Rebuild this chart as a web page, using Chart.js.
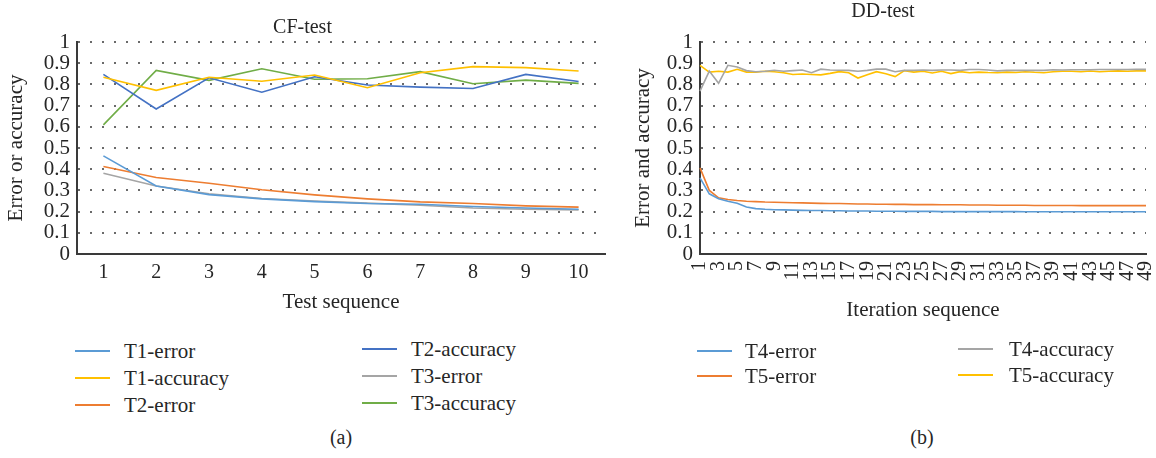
<!DOCTYPE html>
<html>
<head>
<meta charset="utf-8">
<script src="https://cdn.jsdelivr.net/npm/chart.js@4.4.1/dist/chart.umd.min.js"></script>
<style>
body { margin: 0; background: #fff; overflow: hidden; }
#wrap { position: relative; width: 1156px; height: 458px; overflow: hidden; font-family: 'Liberation Serif', 'Times New Roman', serif; color: #262626; }
canvas { position: absolute; top: 0; }
#cvA { left: 0; }
#cvB { left: 620px; }
.item { position: absolute; height: 24px; font-size: 21px; line-height: 24px; white-space: nowrap; }
.item .sw { position: absolute; left: 0; top: 11px; width: 35px; height: 2px; }
.item .tx { position: absolute; top: 0; }
.cap { position: absolute; width: 60px; text-align: center; font-size: 20px; line-height: 24px; }
</style>
</head>
<body>
<div id="wrap">
  <canvas id="cvA" width="682" height="330"></canvas>
  <canvas id="cvB" width="606" height="330"></canvas>
  <div class="cap" style="left:311px;top:425px">(a)</div>
  <div class="cap" style="left:892px;top:425px">(b)</div>
</div>
<script>
// (a) CF-test
const cfLabels = ["1", "2", "3", "4", "5", "6", "7", "8", "9", "10"]
const t1Error = [0.463, 0.321, 0.28, 0.26, 0.247, 0.238, 0.235, 0.224, 0.217, 0.211]
const t1Accuracy = [0.834, 0.772, 0.834, 0.815, 0.844, 0.784, 0.855, 0.884, 0.879, 0.863]
const t2Error = [0.413, 0.361, 0.334, 0.303, 0.279, 0.26, 0.246, 0.238, 0.227, 0.221]
const t2Accuracy = [0.847, 0.684, 0.831, 0.763, 0.836, 0.797, 0.787, 0.781, 0.847, 0.814]
const t3Error = [0.381, 0.321, 0.284, 0.262, 0.25, 0.24, 0.23, 0.217, 0.211, 0.208]
const t3Accuracy = [0.609, 0.866, 0.819, 0.874, 0.824, 0.827, 0.86, 0.803, 0.82, 0.805]

// (b) DD-test
const ddLabels = ["1", "2", "3", "4", "5", "6", "7", "8", "9", "10",
    "11", "12", "13", "14", "15", "16", "17", "18", "19", "20",
    "21", "22", "23", "24", "25", "26", "27", "28", "29", "30",
    "31", "32", "33", "34", "35", "36", "37", "38", "39", "40",
    "41", "42", "43", "44", "45", "46", "47", "48", "49"]
const t4Error = [0.359, 0.284, 0.261, 0.249, 0.239, 0.222, 0.214, 0.211, 0.209, 0.208,
    0.207, 0.206, 0.205, 0.205, 0.204, 0.204, 0.203, 0.203, 0.203, 0.202,
    0.202, 0.202, 0.201, 0.201, 0.201, 0.201, 0.2, 0.2, 0.2, 0.2,
    0.2, 0.2, 0.2, 0.2, 0.2, 0.199, 0.199, 0.199, 0.199, 0.199,
    0.199, 0.199, 0.199, 0.199, 0.199, 0.199, 0.199, 0.199, 0.199]
const t5Error = [0.406, 0.3, 0.265, 0.257, 0.252, 0.249, 0.247, 0.245, 0.244, 0.243,
    0.242, 0.241, 0.24, 0.239, 0.238, 0.238, 0.237, 0.236, 0.236, 0.235,
    0.235, 0.234, 0.234, 0.233, 0.233, 0.233, 0.232, 0.232, 0.232, 0.231,
    0.231, 0.231, 0.23, 0.23, 0.23, 0.23, 0.229, 0.229, 0.229, 0.229,
    0.229, 0.228, 0.228, 0.228, 0.228, 0.228, 0.228, 0.228, 0.228]
const t4Accuracy = [0.768, 0.863, 0.805, 0.89, 0.882, 0.865, 0.86, 0.862, 0.867, 0.862,
    0.865, 0.868, 0.855, 0.872, 0.868, 0.867, 0.866, 0.862, 0.866, 0.872,
    0.872, 0.86, 0.866, 0.866, 0.868, 0.866, 0.868, 0.868, 0.866, 0.87,
    0.87, 0.868, 0.864, 0.866, 0.866, 0.867, 0.866, 0.866, 0.869, 0.868,
    0.869, 0.869, 0.869, 0.87, 0.87, 0.87, 0.87, 0.871, 0.871]
const t5Accuracy = [0.89, 0.858, 0.862, 0.858, 0.871, 0.858, 0.858, 0.862, 0.86, 0.855,
    0.847, 0.849, 0.847, 0.845, 0.852, 0.86, 0.855, 0.83, 0.845, 0.86,
    0.85, 0.837, 0.865, 0.858, 0.862, 0.854, 0.862, 0.851, 0.86, 0.855,
    0.858, 0.856, 0.855, 0.858, 0.856, 0.86, 0.857, 0.855, 0.86, 0.862,
    0.862, 0.86, 0.863, 0.86, 0.862, 0.864, 0.862, 0.864, 0.864]

const INK = "#262626"
Chart.defaults.font.family = "'Liberation Serif', 'Times New Roman', serif"
Chart.defaults.color = INK

function series(label, data, color) {
    return {
        label, data,
        borderColor: color,
        backgroundColor: color,
        borderWidth: 1.6,
        pointRadius: 0,
        tension: 0,
        fill: false,
    }
}

function chartOptions(o) {
    return {
        responsive: false,
        animation: false,
        layout: { padding: { left: 0, right: o.padRight, top: 0, bottom: 0 } },
        plugins: {
            legend: { display: false },
            tooltip: { enabled: false },
            title: {
                display: true,
                text: o.title,
                color: INK,
                font: { size: 20, weight: "normal" },
                padding: o.titlePad
            }
        },
        scales: {
            x: {
                offset: o.offset,
                grid: { display: false, drawTicks: false },
                border: { display: true, color: "#3a3a3a", width: 2 },
                ticks: {
                    autoSkip: false,
                    maxRotation: o.rot,
                    minRotation: o.rot,
                    padding: 7,
                    color: INK,
                    font: { size: 20 },
                    callback(val, i) {
                        return i % o.every === 0 ? this.getLabelForValue(val) : ""
                    }
                },
                title: {
                    display: true,
                    text: o.xTitle,
                    color: INK,
                    font: { size: 21 },
                    padding: { top: 0, bottom: o.xTitlePad }
                },
                afterFit(s) { s.height = 76 }
            },
            y: {
                min: 0,
                max: 1,
                grid: { color: "#6a6a6a", lineWidth: 2, drawTicks: false },
                border: { display: true, color: "#3a3a3a", width: 2, dash: [2, 10] },
                ticks: {
                    stepSize: 0.1,
                    autoSkip: false,
                    padding: 7,
                    color: INK,
                    font: { size: 21 },
                    callback: v => String(Math.round(v * 10) / 10)
                },
                title: {
                    display: true,
                    text: o.yTitle,
                    color: INK,
                    font: { size: 21 },
                    padding: { top: o.yTitlePad, bottom: 0 }
                },
                afterFit(s) { s.width = o.yWidth }
            }
        }
    }
}

const chartA = new Chart(document.getElementById("cvA"), {
    type: "line",
    data: {
        labels: cfLabels,
        datasets: [
            series("T1-error", t1Error, "#5b9bd5"),
            series("T1-accuracy", t1Accuracy, "#ffc000"),
            series("T2-error", t2Error, "#ed7d31"),
            series("T2-accuracy", t2Accuracy, "#4472c4"),
            series("T3-error", t3Error, "#a5a5a5"),
            series("T3-accuracy", t3Accuracy, "#70ad47"),
        ]
    },
    options: chartOptions({
        title: "CF-test", titlePad: { top: 16, bottom: 2 },
        xTitle: "Test sequence", xTitlePad: 15,
        yTitle: "Error or accuracy", yTitlePad: 4,
        yWidth: 77, padRight: 77, offset: true, rot: 0, every: 1
    })
})

const chartB = new Chart(document.getElementById("cvB"), {
    type: "line",
    data: {
        labels: ddLabels,
        datasets: [
            series("T4-error", t4Error, "#5b9bd5"),
            series("T5-error", t5Error, "#ed7d31"),
            series("T4-accuracy", t4Accuracy, "#a5a5a5"),
            series("T5-accuracy", t5Accuracy, "#ffc000"),
        ]
    },
    options: chartOptions({
        title: "DD-test", titlePad: { top: 0, bottom: 18 },
        xTitle: "Iteration sequence", xTitlePad: 7,
        yTitle: "Error and accuracy", yTitlePad: 11,
        yWidth: 80, padRight: 80, offset: false, rot: 90, every: 2
    })
})

// legends are laid out in columns like the original
function buildLegend(chart, cols) {
    const wrap = document.getElementById("wrap")
    cols.forEach(col => {
        col.items.forEach((dsIx, r) => {
            const ds = chart.data.datasets[dsIx]
            const item = document.createElement("div")
            item.className = "item"
            item.style.left = col.x + "px"
            item.style.top = (col.rows[r] - 12) + "px"
            item.innerHTML = '<span class="sw" style="background:' + ds.borderColor + '"></span>' +
                '<span class="tx" style="left:' + col.gap + 'px">' + ds.label + '</span>'
            wrap.appendChild(item)
        })
    })
}

buildLegend(chartA, [
    { x: 75, gap: 49, rows: [351, 378, 405], items: [0, 1, 2] },
    { x: 362, gap: 49, rows: [349, 376, 403], items: [3, 4, 5] },
])
buildLegend(chartB, [
    { x: 697, gap: 48, rows: [351, 376], items: [0, 1] },
    { x: 958, gap: 51, rows: [349, 375], items: [2, 3] },
])
</script>
</body>
</html>
